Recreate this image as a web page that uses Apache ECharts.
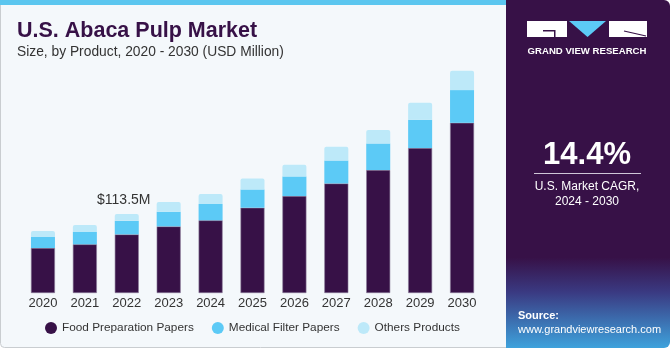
<!DOCTYPE html>
<html>
<head>
<meta charset="utf-8">
<script src="https://cdn.jsdelivr.net/npm/echarts@6/dist/echarts.min.js"></script>
<style>
  html, body { margin: 0; padding: 0; background: #ffffff; }
  #chart { width: 670px; height: 350px; }
</style>
</head>
<body>
<div id="chart"></div>
<script>
// data (USD Million)
var years = ["2020", "2021", "2022", "2023", "2024", "2025", "2026", "2027", "2028", "2029", "2030"];
var foodPrep = [64.7, 70.0, 84.3, 95.8, 104.5, 122.6, 139.4, 157.5, 176.8, 208.4, 244.7];
var medicalFilter = [15.8, 17.7, 19.5, 21.0, 23.5, 26.3, 28.2, 33.0, 38.2, 40.7, 47.0];
var others = [8.6, 10.0, 9.7, 14.0, 14.4, 15.8, 16.8, 19.7, 19.3, 24.4, 27.7];
var seriesNames = ["Food Preparation Papers", "Medical Filter Papers", "Others Products"];
var labelIndex = 2; // 2022 total gets the callout

var colors = ["#371147", "#5ccaf6", "#bde9f9"];
var font = "Liberation Sans, Arial, sans-serif";

var chart = echarts.init(document.getElementById("chart"));

var total = foodPrep[labelIndex] + medicalFilter[labelIndex] + others[labelIndex];

var othersData = others.map(function (v, i) {
  if (i !== labelIndex) return v;
  return {
    value: v,
    label: {
      show: true,
      position: "top",
      distance: 7,
      offset: [-3, 0],
      color: "#333",
      fontSize: 14,
      fontFamily: font,
      formatter: function () { return "$" + total.toFixed(1) + "M"; }
    }
  };
});

chart.setOption({
  animation: false,
  backgroundColor: "#ffffff",
  color: colors,
  graphic: [
    // left panel
    {
      type: "rect", z: -10, silent: true,
      shape: { x: 0.5, y: 0.5, width: 520, height: 347, r: 4 },
      style: { fill: "#f4f8fb", stroke: "#c9cdd0", lineWidth: 1 }
    },
    {
      type: "rect", z: -9, silent: true,
      shape: { x: 0, y: 0, width: 510, height: 5 },
      style: { fill: "#5bc6ef" }
    },
    // right panel
    {
      type: "rect", z: -8, silent: true,
      shape: { x: 506, y: 0, width: 164, height: 348, r: [0, 6, 6, 0] },
      style: {
        fill: new echarts.graphic.LinearGradient(0, 0, 0, 1, [
          { offset: 0, color: "#371147" },
          { offset: 0.74, color: "#371147" },
          { offset: 0.84, color: "#3a3a82" },
          { offset: 1, color: "#3ea2dc" }
        ])
      }
    },
    // logo
    { type: "rect", silent: true, shape: { x: 527, y: 21, width: 40, height: 16 }, style: { fill: "#ffffff" } },
    { type: "rect", silent: true, shape: { x: 543, y: 30, width: 11, height: 1.5 }, style: { fill: "#371147" } },
    { type: "rect", silent: true, shape: { x: 554, y: 30, width: 1.5, height: 7 }, style: { fill: "#371147" } },
    { type: "polygon", silent: true, shape: { points: [[569, 21], [606, 21], [587.5, 37]] }, style: { fill: "#5ccaf6" } },
    { type: "rect", silent: true, shape: { x: 609, y: 21, width: 38, height: 16 }, style: { fill: "#ffffff" } },
    { type: "line", silent: true, shape: { x1: 624, y1: 31, x2: 646, y2: 36 }, style: { stroke: "#371147", lineWidth: 1.2 } },
    {
      type: "text", silent: true,
      style: {
        x: 587, y: 51, text: "GRAND VIEW RESEARCH", align: "center", verticalAlign: "middle",
        fill: "#ffffff", font: "bold 9.6px " + font
      }
    },
    // CAGR block
    {
      type: "text", silent: true,
      style: {
        x: 587, y: 155, text: "14.4%", align: "center", verticalAlign: "middle",
        fill: "#ffffff", font: "bold 31px " + font
      }
    },
    { type: "rect", silent: true, shape: { x: 534, y: 173, width: 107, height: 1 }, style: { fill: "#cfc6d8" } },
    {
      type: "text", silent: true,
      style: {
        x: 587, y: 187, text: "U.S. Market CAGR,", align: "center", verticalAlign: "middle",
        fill: "#ffffff", font: "12px " + font
      }
    },
    {
      type: "text", silent: true,
      style: {
        x: 587, y: 202, text: "2024 - 2030", align: "center", verticalAlign: "middle",
        fill: "#ffffff", font: "12px " + font
      }
    },
    // source
    {
      type: "text", silent: true,
      style: {
        x: 518, y: 316, text: "Source:", verticalAlign: "middle",
        fill: "#ffffff", font: "bold 11px " + font
      }
    },
    {
      type: "text", silent: true,
      style: {
        x: 518, y: 330, text: "www.grandviewresearch.com", verticalAlign: "middle",
        fill: "#ffffff", font: "11px " + font
      }
    }
  ],
  title: {
    text: "U.S. Abaca Pulp Market",
    subtext: "Size, by Product, 2020 - 2030 (USD Million)",
    left: 12,
    top: 15,
    itemGap: 3,
    textStyle: { color: "#371147", fontSize: 21.5, fontWeight: 900, fontFamily: font },
    subtextStyle: { color: "#333333", fontSize: 13.8, fontFamily: font }
  },
  legend: {
    left: 40,
    top: 317,
    icon: "circle",
    itemWidth: 12,
    itemHeight: 12,
    itemGap: 18,
    itemStyle: { borderWidth: 0 },
    textStyle: { color: "#333333", fontSize: 11.8, fontFamily: font },
    data: seriesNames
  },
  grid: { left: 22, width: 461, top: 60, bottom: 57 },
  xAxis: {
    type: "category",
    data: years,
    axisLine: { show: false },
    axisTick: { show: false },
    axisLabel: { color: "#333333", fontSize: 13, fontFamily: font, margin: 4 }
  },
  yAxis: {
    type: "value",
    min: 0,
    max: 335,
    show: false,
    splitLine: { show: false }
  },
  series: [
    {
      name: seriesNames[0], type: "bar", stack: "total", barWidth: 24,
      itemStyle: { color: colors[0], borderColor: "#8a7a99", borderWidth: 0.6 },
      data: foodPrep
    },
    {
      name: seriesNames[1], type: "bar", stack: "total", barWidth: 24,
      itemStyle: { color: colors[1] },
      data: medicalFilter
    },
    {
      name: seriesNames[2], type: "bar", stack: "total", barWidth: 24,
      itemStyle: { color: colors[2], borderRadius: [2, 2, 0, 0] },
      data: othersData
    }
  ]
});
</script>
</body>
</html>
